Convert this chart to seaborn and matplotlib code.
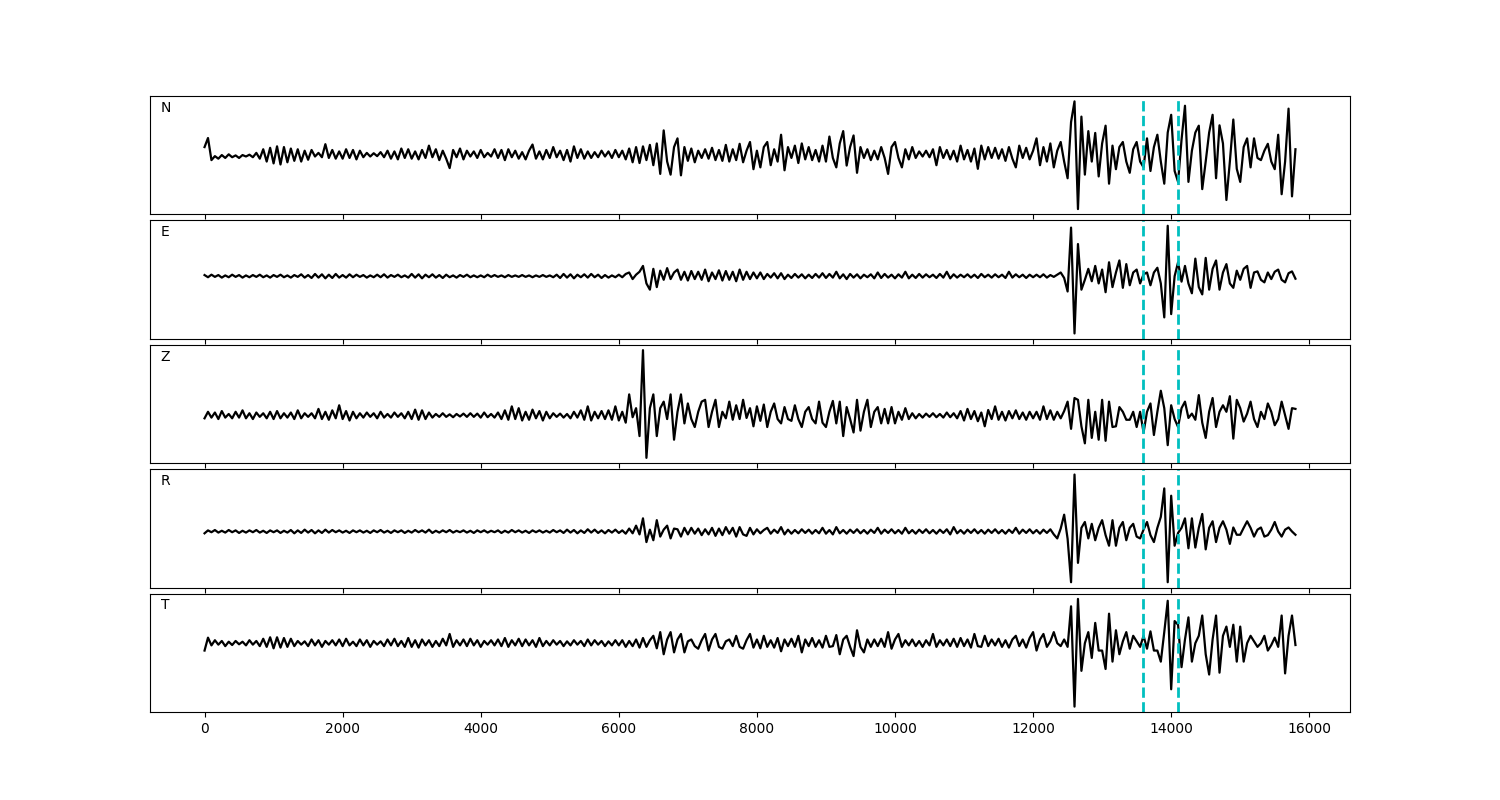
import numpy as np
import pandas as pd
import matplotlib
matplotlib.use("Agg")
import matplotlib.pyplot as plt
import seaborn as sns

# sample step of the traced waveform, x axis is the sample index 0..15800
step = 50
picks = [13590, 14100]
channels = ['N', 'E', 'Z', 'R', 'T']

# amplitudes (arbitrary units), one row = 1000 samples
amp_N = [
    20, 45, -16, -5, -12, -2, -10, 0, -8, -3, -10, -2, -6, -1, -8, 4, -12, 14, -20, 18,
    -25, 22, -28, 20, -22, 16, -18, 14, -20, 10, -15, 12, -6, 4, -8, 28, -10, 12, -12, 8,
    -12, 14, -10, 12, -14, 10, -8, 4, -6, 3, -5, 6, -8, 10, -12, 8, -14, 16, -10, 14,
    -12, 8, -14, 12, -10, 24, -8, 14, -16, 10, -12, -38, 12, -8, 16, -14, 10, -6, 8, -10,
    12, -8, 4, -6, 14, -10, 12, -16, 14, -8, 10, -12, 6, -14, 10, 27, -12, 8, -14, 12,
    -10, 20, -8, 10, -16, 12, -20, 22, -10, 14, -12, 8, -10, 6, -8, 10, -6, 8, -10, 12,
    -8, 10, -14, 16, -22, 20, -24, 22, -16, 26, -30, 30, -54, 66, -20, -56, 20, 44, -58, 20,
    -18, 16, -22, 10, -10, 14, -12, 18, -16, 12, -18, 26, -20, 14, -16, 29, -22, 10, 34, -41,
    10, -36, 20, 34, -30, 14, -20, 54, -44, 20, -10, 24, -24, 30, -14, 20, -16, 12, -20, 24,
    -20, 49, -10, -36, 30, 64, -31, 20, 52, -51, 20, -10, 14, -16, 10, -14, 20, -10, -54, 20,
    34, -10, -36, 14, -14, 20, -10, 8, -6, 10, -8, 14, -30, 20, -10, 12, -14, 10, -20, 24,
    -14, 12, -20, 16, -40, 24, -14, 20, -10, 18, -12, 14, -18, 20, -12, -36, 24, -10, 18, -14,
    10, 44, -30, 20, -20, 30, -36, 10, 34, -20, -66, 89, 146, -151, 104, -56, 64, -20, 59, -61,
    30, 79, -81, 24, -41, 20, 34, -20, -51, 14, 34, -20, -36, 44, -46, 20, 54, -20, -81, 60,
    109, -46, -76, 40, 134, -76, 10, 60, 79, -96, -20, 60, 109, -66, 80, 30, -126, -20, 96, -40,
    -76, 20, 44, -36, 44, -10, -16, 10, 29, -20, -41, 54, -110, -20, 126, -116, 14,
]

amp_E = [
    3, -3, 4, -2, 3, -4, 2, -3, 4, -2, 3, -4, 2, -3, 3, -2, 4, -3, 2, -4,
    3, -2, 4, -3, 2, -4, 3, -2, 5, -4, 3, -5, 6, -4, 5, -6, 4, -5, 6, -4,
    3, -4, 5, -3, 4, -2, 3, -4, 2, -3, 4, -3, 5, -4, 3, -2, 4, -3, 2, -4,
    6, -4, 5, -6, 4, -3, 5, -4, 3, -5, 4, -3, 2, -4, 3, -2, 4, -3, 2, -3,
    2, -3, 4, -2, 3, -2, 2, -3, 3, -2, 2, -2, 3, -2, 2, -3, 2, -2, 3, -2,
    2, -3, 4, -5, 6, -4, 5, -6, 4, -3, 5, -4, 6, -3, 4, -5, 3, -4, 2, -3,
    4, -3, 6, 10, -8, 4, 12, 28, -20, -37, 20, -30, 15, -10, 22, -8, 10, 18, -10, 12,
    -12, 14, -8, 12, -10, 18, -14, 10, -8, 16, -12, 14, -10, 12, -14, 18, -10, 12, -8, 10,
    -6, 10, -8, 6, -4, 8, -6, 8, -8, 4, -5, 6, -4, 5, -6, 4, -5, 6, -4, 8,
    -5, 6, -4, 12, -6, 5, -8, 6, -4, 5, -6, 4, -3, 5, -6, 10, -5, 6, -4, 4,
    -6, 5, -4, 12, -6, 4, -5, 6, -4, 5, -3, 4, -5, 6, -4, 12, -6, 5, -4, 4,
    -3, 5, -4, 4, -5, 6, -3, 4, -4, 5, -3, 4, -5, 12, -4, 5, -3, 4, -5, 4,
    -3, 4, -3, 5, -4, 3, -2, 4, 10, -5, -42, 133, -157, 88, -37, -10, 20, -14, 28, -20,
    18, -44, 38, -30, 10, 43, -32, 33, -25, 10, 18, -20, 5, 10, -25, 10, 23, -20, -113, 138,
    -104, 0, 38, -15, 28, -20, -47, 48, -30, -50, 50, -37, 20, 43, -37, 10, 33, -20, -32, 15,
    -10, 20, 28, -32, 10, 13, -10, -17, 10, -8, 12, 18, -10, -17, 8, 13, -7,
]

amp_Z = [
    -8, 10, -6, 8, -10, 12, -6, 4, -8, 10, -6, 14, -8, 6, -10, 8, -4, 6, -8, 10,
    -10, 12, -8, 6, -6, 8, -10, 14, -8, 6, -4, 6, -8, 18, -10, 10, -12, 14, -8, 28,
    -10, 12, -14, 10, -8, 6, -6, 8, -4, 6, -8, 10, -6, 4, -6, 8, -4, 6, -8, 10,
    -10, 16, -12, 14, -10, 8, -6, 4, -4, 6, -4, 3, -5, 4, -3, 5, -4, 6, -4, 5,
    -6, 8, -5, 4, -6, 8, -10, 14, -12, 25, -10, 20, -14, 10, -12, 16, -8, 12, -14, 10,
    -8, 6, -4, 5, -6, 4, -8, 10, -6, 14, -12, 25, -14, 10, -8, 12, -10, 14, -12, 25,
    -14, 10, -20, 58, -5, 20, -57, 180, -117, 20, 58, -57, 20, 38, -10, 58, -67, 10, 58, -22,
    33, -10, -32, 10, 38, 43, -32, 10, 43, -32, 10, -8, 38, -12, 28, -10, 43, -7, 20, -30,
    25, -15, 30, -32, 10, 33, -10, -22, 23, -10, -15, 28, -10, -32, 10, 23, -10, -22, 38, -20,
    -32, 10, 40, -22, 38, -57, 23, -10, -47, 43, -42, 10, 43, -32, 10, 23, -22, 18, -22, 23,
    -22, 10, -12, 20, -10, 6, -8, 4, -6, 5, -4, 6, -5, 4, -6, 8, -5, 6, -8, 12,
    -14, 18, -10, 12, -16, 8, -30, 15, -10, 25, -12, 10, -14, 12, -8, 14, -10, 8, -12, 10,
    -8, 10, -12, 25, -10, 14, -12, 10, -8, 12, 38, -37, 48, 43, -30, -77, 43, -62, 10, -67,
    43, -70, 38, -32, -30, 23, 10, -12, -12, 10, -32, 10, -47, 10, 33, -54, 10, 68, 20, -82,
    28, -10, -32, 20, 38, -7, 5, -12, 56, -20, -62, 10, 48, -32, 10, 28, 10, 53, -64, 43,
    20, -17, 5, 38, -10, -32, 10, -10, 33, 10, -27, -10, 38, 0, -37, 20, 18,
]

amp_R = [
    -5, 3, -2, 4, -3, 2, -3, 4, -2, 3, -4, 2, -3, 3, -2, 4, -3, 2, -4, 3,
    -2, 3, -4, 2, -3, 4, -5, 3, -4, 5, -3, 4, -5, 3, -4, 5, -3, 4, -2, 3,
    -3, 2, -4, 3, -2, 3, -3, 2, -4, 3, -2, 4, -3, 2, -4, 3, -2, 3, -4, 2,
    -3, 4, -2, 3, -3, 5, -4, 2, -3, 3, -2, 4, -3, 2, -2, 3, -3, 2, -4, 3,
    -2, 3, -3, 2, -2, 3, -4, 2, -3, 4, -2, 3, -3, 2, -4, 3, -2, 3, -3, 2,
    -3, 4, -2, 3, -4, 5, -3, 4, -5, 3, -4, 6, -3, 5, -4, 3, -5, 4, -3, 5,
    -4, 3, -6, 8, -5, 16, -8, 36, -29, 5, -24, 31, -14, 5, 16, -19, 8, 6, -14, 10,
    -8, 10, -6, 8, -10, 6, -8, 10, -12, 8, -10, 12, -6, 10, -14, 12, -8, -12, 10, -8,
    6, -5, 4, 10, -6, 5, -4, 12, -8, 5, -6, 4, -5, 6, -4, 5, -6, 4, -5, 10,
    -6, 4, -8, 12, -5, 4, -6, 5, -4, 6, -5, 4, -6, 5, -4, 10, -6, 5, -4, 6,
    -5, 4, -6, 10, -5, 4, -6, 5, -4, 6, -5, 4, -6, 5, -4, 6, -8, 12, -5, 4,
    -6, 5, -4, 6, -5, 4, -6, 5, -4, 6, -5, 4, -6, 5, -4, 10, -6, 5, -4, 6,
    -5, 4, -6, 5, -4, 6, -8, -19, 8, 46, -20, -139, 156, -86, 10, 26, -19, 21, -24, 10,
    31, -10, -39, 31, -39, 10, 26, -24, 10, 21, -14, -19, 5, 26, -10, -29, 10, 40, 118, -139,
    98, -39, -4, 10, 36, -46, 36, -44, 10, 48, -49, 10, 28, -29, 10, 28, 5, -34, 11, -9,
    -9, 10, 28, 10, -14, 5, 11, -14, -10, 5, 26, 0, -14, 5, 11, 0, -9,
]

amp_T = [
    -20, 15, -6, 8, -4, 6, -8, 4, -5, 6, -3, 4, -6, 8, -4, 6, -8, 12, -10, 16,
    -14, 16, -12, 14, -10, 12, -8, 6, -4, 5, -8, 10, -6, 8, -10, 6, -4, 8, -6, 10,
    -8, 12, -6, 4, -8, 10, -6, 8, -10, 6, -4, 5, -8, 10, -6, 12, -8, 6, -10, 14,
    -10, 8, -12, 10, -6, 8, -10, 6, -8, 12, -6, 25, -10, 8, -6, 10, -8, 12, -6, 8,
    -10, 6, -4, 8, -6, 10, -8, 14, -10, 8, -6, 12, -8, 10, -6, 8, -10, 14, -8, 6,
    -6, 8, -4, 6, -8, 5, -6, 8, -4, 6, -8, 10, -6, 8, -4, 6, -8, 5, -6, 8,
    -6, 8, -10, 6, -8, 10, -12, 14, -10, 8, 20, -14, 30, -30, 10, 30, -25, 10, 25, -25,
    5, 10, -8, -15, 8, 25, -20, 10, 25, -10, -15, 5, 10, -8, 20, -10, -15, 8, 25, -12,
    10, -14, 20, -10, 8, -12, 14, -22, 10, -8, 12, -10, 20, -25, 10, -8, 14, -10, 8, -12,
    20, -10, -8, 22, -30, 10, 20, -10, -35, 35, -10, -25, 10, -10, 10, -8, 12, -10, 30, -15,
    10, 25, -10, 8, -6, 10, -8, 6, -10, 8, -6, 25, -10, 8, -6, 10, -8, 12, -10, 14,
    -8, 10, -12, 25, -8, -10, 20, -8, 10, -6, 12, -10, 8, -12, 10, 20, -8, 10, -12, 14,
    30, -20, 10, 25, -10, 5, 30, 0, -8, 10, -10, 100, -172, 120, -75, 0, 30, -40, 55, -20,
    -20, -70, 80, -50, 35, -30, 5, 30, -15, 20, 5, -10, 20, -15, 32, -20, -20, -50, 30, 115,
    -125, 60, 50, -65, 10, 70, -50, 0, 20, 75, -30, -85, 10, 75, -80, 20, 45, -10, 50, -50,
    45, -50, 0, 20, 5, -10, 0, 20, -20, -5, 15, -10, 75, -82, 20, 75, -5,
]

amps = [amp_N, amp_E, amp_Z, amp_R, amp_T]

fig, axes = plt.subplots(5, 1, figsize=(15, 8), dpi=100, sharex=True)
fig.subplots_adjust(left=0.1, right=0.9, top=0.88, bottom=0.11, hspace=0.05)

for ax, name, amp in zip(axes, channels, amps):
    df = pd.DataFrame({'t': np.arange(len(amp)) * step, 'a': amp})
    sns.lineplot(data=df, x='t', y='a', ax=ax, color='k', linewidth=1.6,
                 estimator=None, sort=False)
    for p in picks:
        ax.axvline(p, color='c', linestyle='--', linewidth=2)
    ax.set_yticks([])
    ax.set_xlabel('')
    ax.set_ylabel('')
    ax.text(0.009, 0.9, name, transform=ax.transAxes, va='center', ha='left', fontsize=10)

plt.savefig('out.png')
